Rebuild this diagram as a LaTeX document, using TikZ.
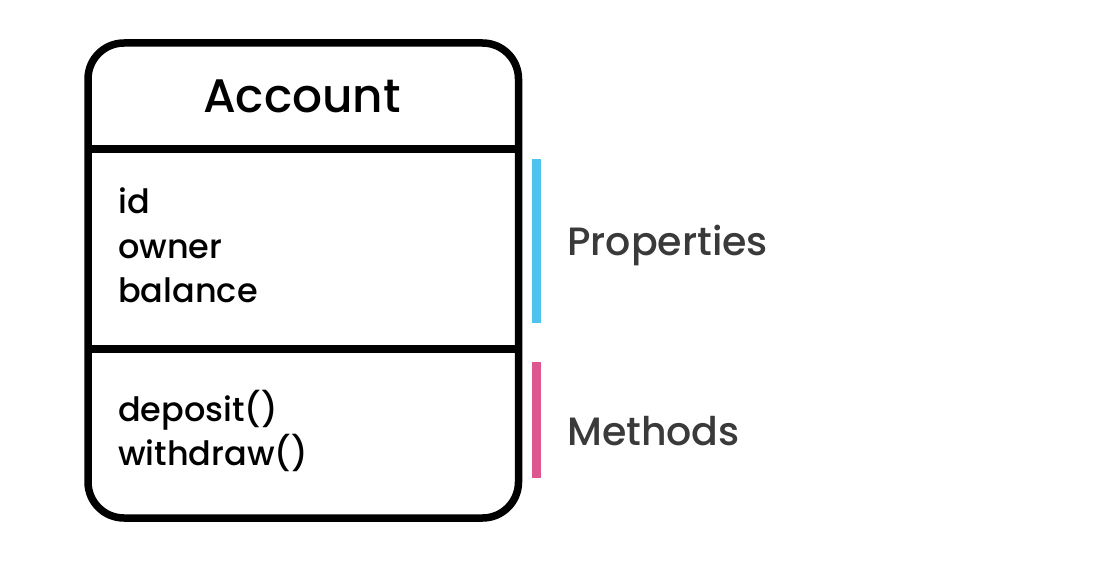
\documentclass[tikz,border=0pt]{standalone}
\usepackage{fontspec}
\IfFontExistsTF{Poppins Medium}{\newfontfamily\pop{Poppins Medium}}{%
  \IfFontExistsTF{Poppins-Medium.ttf}{\newfontfamily\pop{Poppins-Medium.ttf}}{%
    \newfontfamily\pop{Poppins}[FakeBold=1.4]}}
\setmainfont{Poppins}
\definecolor{propblue}{HTML}{4FC3F0}
\definecolor{methpink}{HTML}{DE5690}
\definecolor{labelgray}{HTML}{3A3A3A}
\begin{document}
\begin{tikzpicture}[x=1pt,y=-1pt,
  frame/.style={line width=7.5pt,draw=black,rounded corners=36pt},
  divider/.style={line width=7.5pt,draw=black},
  bar/.style={line width=9pt},
  title/.style={anchor=base,inner sep=0pt,font=\pop\fontsize{47}{50}\selectfont},
  item/.style={anchor=base west,inner sep=0pt,font=\pop\fontsize{33.5}{40}\selectfont},
  side/.style={anchor=base west,inner sep=0pt,text=labelgray,font=\pop\fontsize{39.5}{44}\selectfont}]
\useasboundingbox (0,0) rectangle (1110,575);
\draw[frame] (88,43) rectangle (518.5,518);
\coordinate (d1l) at (88,149);
\coordinate (d1r) at (518.5,149);
\coordinate (d2l) at (88,349);
\coordinate (d2r) at (518.5,349);
\draw[divider] (d1l) -- (d1r);
\draw[divider] (d2l) -- (d2r);
\node[title] (acc) at (302,113) {Account};
\node[item] (id) at (118,213) {id};
\node[item] (owner) at (118,258) {owner};
\node[item] (bal) at (118,302) {balance};
\node[item] (dep) at (118,421) {deposit()};
\node[item] (wd) at (118,465) {withdraw()};
\coordinate (pb1) at (536.5,159);
\coordinate (pb2) at (536.5,323);
\coordinate (mb1) at (536.5,362);
\coordinate (mb2) at (536.5,478);
\draw[bar,propblue] (pb1) -- (pb2);
\draw[bar,methpink] (mb1) -- (mb2);
\node[side] (prop) at (567,255) {Properties};
\node[side] (meth) at (567,445) {Methods};
\end{tikzpicture}
\end{document}
